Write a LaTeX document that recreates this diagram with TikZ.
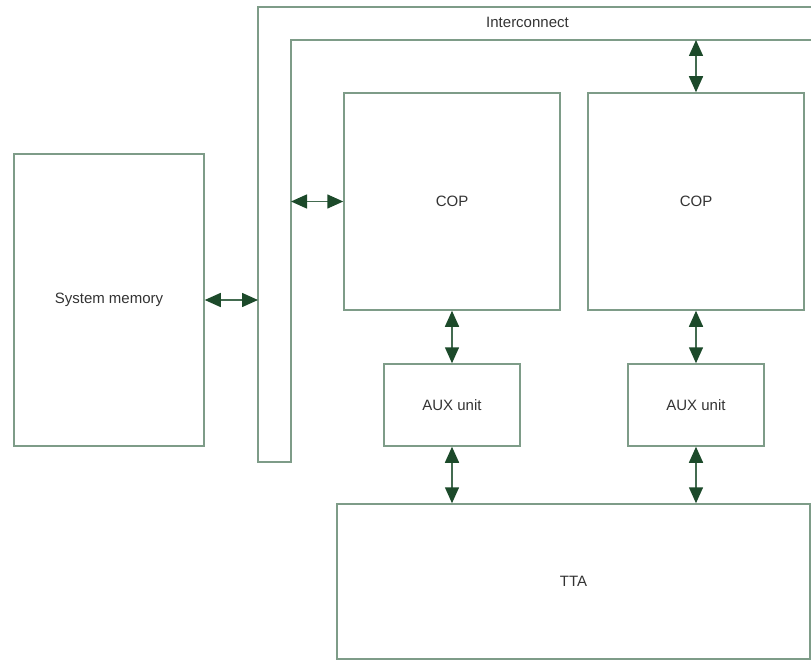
\documentclass[tikz,border=0pt]{standalone}
\usepackage{fontspec}
\setmainfont{Liberation Sans}
\usepackage{tikz}
\usetikzlibrary{arrows.meta}

\definecolor{boxline}{HTML}{7E9C88}
\definecolor{arrowgreen}{HTML}{1C4A2A}
\definecolor{labeltext}{HTML}{333333}

\begin{document}
\begin{tikzpicture}[x=1pt,y=-1pt,font=\fontsize{15}{18}\selectfont]
\useasboundingbox (0,0) rectangle (811,660);

% interconnect bus
\draw[boxline,line width=1.5pt] (811,7) -- (258,7) -- (258,462) -- (291,462) -- (291,40) -- (811,40);
\node[text=labeltext] (Interconnect) at (527.5,22) {Interconnect};
\coordinate (BusMem) at (258,300);
\coordinate (BusCop) at (291,201.5);
\coordinate (BusTop) at (696,40);

\begin{scope}[every node/.style={rectangle,draw=boxline,line width=1.5pt,text=labeltext,inner sep=0pt}]
    \node[minimum width=190pt,minimum height=292pt] (SysMem) at (109,300) {System memory};
    \node[minimum width=216pt,minimum height=217pt] (CopLeft) at (452,201.5) {COP};
    \node[minimum width=216pt,minimum height=217pt] (CopRight) at (696,201.5) {COP};
    \node[minimum width=136pt,minimum height=82pt] (AuxLeft) at (452,405) {AUX unit};
    \node[minimum width=136pt,minimum height=82pt] (AuxRight) at (696,405) {AUX unit};
    \node[minimum width=473pt,minimum height=155pt] (Tta) at (573.5,581.5) {TTA};
    \end{scope}

\begin{scope}[>={Triangle[length=16pt,width=14pt,color=arrowgreen]},
              every edge/.style={draw=arrowgreen!60!boxline,line width=1.5pt}]
    \path [<->] (SysMem.east) edge (BusMem);
    \path [<->] (BusCop) edge (CopLeft.west);
    \path [<->] (BusTop) edge (CopRight.north);
    \path [<->] (CopLeft.south) edge (AuxLeft.north);
    \path [<->] (CopRight.south) edge (AuxRight.north);
    \path [<->] (AuxLeft.south) edge (AuxLeft.south |- Tta.north);
    \path [<->] (AuxRight.south) edge (AuxRight.south |- Tta.north);
    \end{scope}

\end{tikzpicture}
\end{document}
